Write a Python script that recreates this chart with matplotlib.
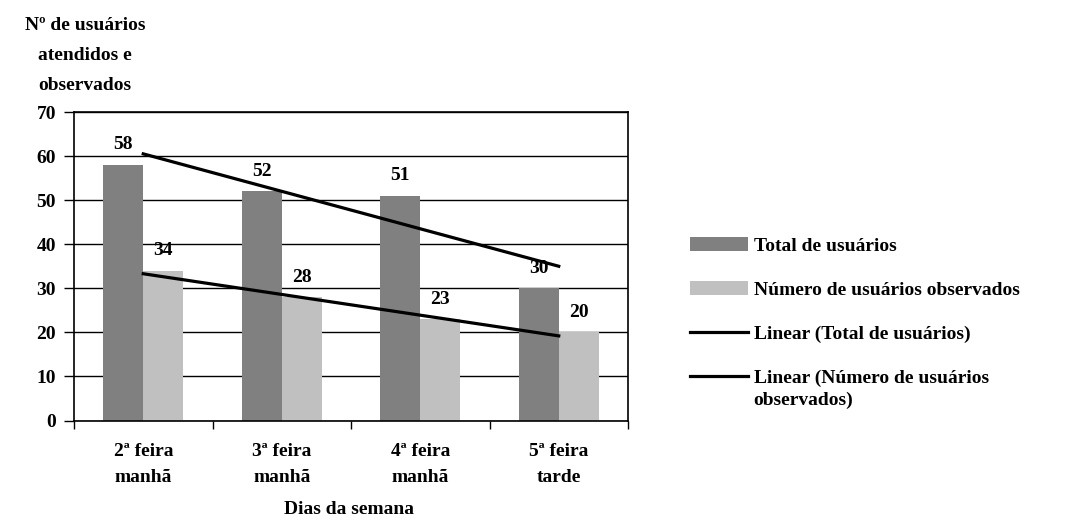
import numpy as np
import matplotlib.pyplot as plt

# users per day of the week
days = ['2ª feira\nmanhã', '3ª feira\nmanhã', '4ª feira\nmanhã', '5ª feira\ntarde']
total = [58, 52, 51, 30]
observed = [34, 28, 23, 20]

plt.rcParams['font.family'] = ['Liberation Serif', 'DejaVu Serif']
plt.rcParams['font.weight'] = 'bold'
fs = 14

fig = plt.figure(figsize=(10.68, 5.22), dpi=100)
ax = fig.add_axes([74 / 1068, 1 - 420.5 / 522, (628 - 74) / 1068, (420.5 - 112) / 522])

x = np.arange(len(days))
w = 0.29
b1 = ax.bar(x - w / 2, total, w, color='#808080', label='Total de usuários', zorder=2)
b2 = ax.bar(x + w / 2, observed, w, color='#c0c0c0', label='Número de usuários observados', zorder=2)

# linear trend lines
trends = []
for series, lab in [(total, 'Linear (Total de usuários)'),
                    (observed, 'Linear (Número de usuários')]:
    k, c = np.polyfit(x, series, 1)
    ln, = ax.plot(x, k * x + c, color='black', lw=2.3, label=lab, zorder=3)
    trends.append(ln)

for bars, vals in [(b1, total), (b2, observed)]:
    for r, v in zip(bars, vals):
        ax.text(r.get_x() + r.get_width() / 2, v + 2.6, str(v), ha='center', va='bottom',
                fontsize=fs, fontweight='bold', zorder=4)

ax.set_xlim(-0.5, len(days) - 0.5)
ax.set_ylim(0, 70)
ax.set_yticks(range(0, 71, 10))
ax.yaxis.grid(True, color='black', lw=1)
ax.set_axisbelow(True)
ax.tick_params(axis='y', length=7, width=1, labelsize=fs, pad=6)

ax.set_xticks(x)
ax.set_xticklabels(days, fontsize=fs, linespacing=1.75)
ax.set_xticks(np.arange(-0.5, len(days)), minor=True)
ax.tick_params(axis='x', which='major', length=0, pad=16)
ax.tick_params(axis='x', which='minor', length=6, width=1)
for s in ax.spines.values():
    s.set_linewidth(1.2)

fig.text(85 / 1068, 1 - 55 / 522, 'Nº de usuários\natendidos e\nobservados', ha='center', va='center',
         fontsize=fs, fontweight='bold', linespacing=2.0)
fig.text(349 / 1068, 1 - 510 / 522, 'Dias da semana', ha='center', va='center', fontsize=fs, fontweight='bold')

leg = fig.legend(handles=[b1, b2] + trends, loc='upper left', bbox_to_anchor=(672 / 1068, 1 - 220 / 522),
                 frameon=False, fontsize=fs, handlelength=3.0, handleheight=0.7, handletextpad=0.3,
                 labelspacing=1.35)

# second line of the last legend label, aligned under the first
fig.canvas.draw()
bb = leg.get_texts()[-1].get_window_extent().transformed(fig.transFigure.inverted())
fig.text(bb.x0, bb.y0 - 0.01, 'observados)', ha='left', va='top', fontsize=fs, fontweight='bold')

fig.savefig('out.png', dpi=100)
